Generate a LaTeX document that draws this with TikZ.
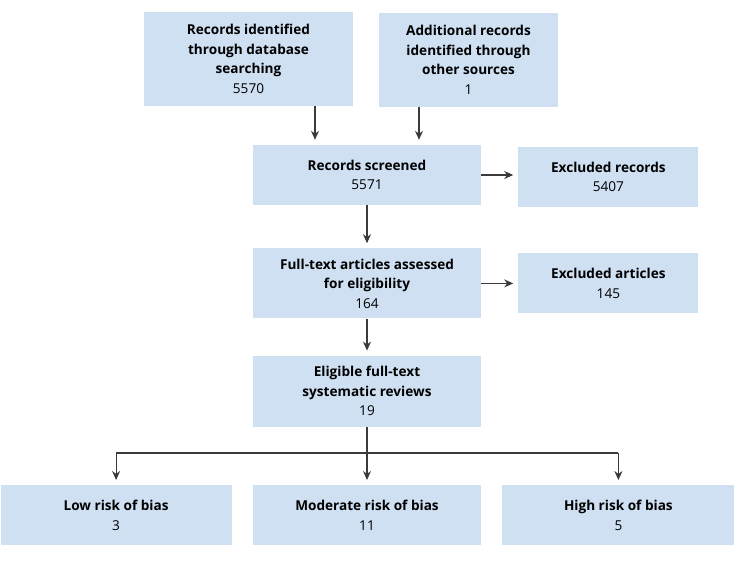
\documentclass[tikz,border=0pt]{standalone}
\usepackage{fontspec}
\setmainfont{Open Sans}
\usepackage{tikz}
\usetikzlibrary{arrows.meta,positioning,calc}
\definecolor{boxblue}{RGB}{207,224,243}
\definecolor{linegray}{RGB}{58,58,58}

\begin{document}
\begin{tikzpicture}[x=1pt, y=-1pt,
            > = {Stealth[length=9pt,width=8pt]},
every edge/.append style = {->, draw=linegray, line width=1.1pt, shorten >=5pt},
node distance = 37pt,
      box/.style = {rectangle, fill=boxblue, inner sep=2pt, align=center,
                    font=\fontsize{13.6}{19.5}\selectfont},
      wide/.style = {box, minimum width=228pt, minimum height=60pt}
]
\useasboundingbox (0,0) rectangle (750,562);
% top row
\node (A) [box, minimum width=209pt, minimum height=94pt] at (248.5,59)
      {\bfseries Records identified\\\bfseries through database\\\bfseries searching\\5570};
\node (B) [box, minimum width=179pt, minimum height=94pt] at (468.5,60)
      {\bfseries Additional records\\\bfseries identified through\\\bfseries other sources\\1};
% main column
\node (C) [wide] at (367,175)             {\bfseries Records screened\\5571};
\node (E) [wide, minimum height=70pt, below=43pt of C]
      {\bfseries Full-text articles assessed\\\bfseries for eligibility\\164};
\node (G) [wide, minimum height=71pt, below=37pt of E]
      {\bfseries Eligible full-text\\\bfseries systematic reviews\\19};
% excluded
\node (D) [box, minimum width=180pt, minimum height=60pt, right=of C, yshift=-2pt]
      {\bfseries Excluded records\\5407};
\node (F) [box, minimum width=180pt, minimum height=60pt, right=of E]
      {\bfseries Excluded articles\\145};
% risk of bias
\node (I) [wide, below=58pt of G]           {\bfseries Moderate risk of bias\\11};
\node (H) [box, minimum width=231pt, minimum height=60pt, left=21pt of I]
      {\bfseries Low risk of bias\\3};
\node (J) [box, minimum width=232pt, minimum height=60pt, right=21pt of I]
      {\bfseries High risk of bias\\5};

\coordinate (split) at ([yshift=-26pt]G.south);
\path
        ([xshift=66.5pt]A.south) edge ([xshift=-52pt]C.north)
        ([xshift=-49.5pt]B.south) edge ([xshift=52pt]C.north)
        (C.east) edge (C.east -| D.west)
        (E.east) edge (E.east -| F.west)
        (C) edge (E)
        (E) edge (G)
        (split -| H.north) edge (H.north)
        (split) edge (I.north)
        (split -| J.north) edge (J.north);
\draw [draw=linegray, line width=1.1pt] (G.south) -- (split)
      (split -| H.north) -- (split -| J.north);
\end{tikzpicture}
\end{document}
